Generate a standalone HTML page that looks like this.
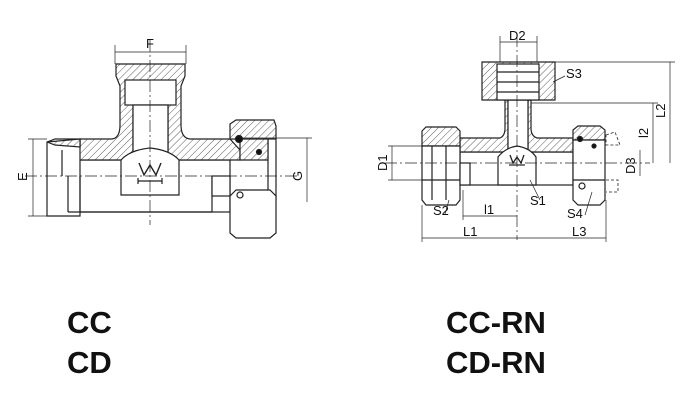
<!DOCTYPE html>
<html><head><meta charset="utf-8"><style>
html,body{margin:0;padding:0;background:#fff;}
svg{display:block;}
text{font-family:"Liberation Sans",sans-serif;fill:#111;}
.t{font-size:13px;}
.b{font-size:31px;font-weight:bold;}
</style></head><body>
<svg width="688" height="407" viewBox="0 0 688 407" xmlns="http://www.w3.org/2000/svg">
<defs>
<pattern id="h" width="5" height="5" patternUnits="userSpaceOnUse" patternTransform="rotate(45)">
<rect width="5" height="5" fill="#fff"/><line x1="0" y1="0" x2="0" y2="5" stroke="#333" stroke-width="0.8"/>
</pattern>
</defs>
<g stroke="#222" stroke-width="1.2" fill="none">
<!-- LEFT DRAWING -->
<!-- main body -->
<rect x="68" y="160" width="162" height="52" fill="#fff"/>
<path d="M80 139 L112 139 Q120 138 120 125 L120 86 L116 76 L116 64 L185 64 L185 76 L181 86 L181 125 Q181 138 190 139 L230 139 L240 150 L240 160 L168 160 L168 105 L133 105 L133 160 L68 160 L68 150 L80 147 Z" fill="url(#h)"/>
<rect x="125" y="80" width="51" height="25" fill="#fff"/>
<rect x="133" y="105" width="35" height="55" fill="#fff"/>
<!-- left end -->
<path d="M47 142 L55 139 L80 139 L80 216 L47 216 Z" fill="#fff"/>
<path d="M47 142 L80 139 L80 147 L55 145 Z" fill="url(#h)"/>
<line x1="62" y1="150" x2="62" y2="176"/>
<line x1="68" y1="176" x2="68" y2="212"/>
<line x1="80" y1="176" x2="80" y2="212"/>
<line x1="68" y1="212" x2="212" y2="212"/>
<line x1="212" y1="176" x2="212" y2="212"/>
<rect x="212" y="176" width="18" height="20" fill="#fff"/>
<!-- right nut -->
<path d="M230 124 L236 120 L274 120 L276 126 L276 139 L240 139 L230 139 Z" fill="url(#h)"/>
<rect x="268" y="139" width="8" height="60" fill="#fff"/>
<path d="M240 139 L268 139 L268 160 L240 160 Z" fill="url(#h)"/>
<path d="M230 196 L236 190 L270 190 L276 196 L276 233 L270 238 L236 238 L230 233 Z" fill="#fff"/>
<circle cx="239" cy="139" r="3.5" fill="#111"/>
<circle cx="259" cy="152" r="2.5" fill="#111"/>
<circle cx="240" cy="195" r="3"/>
<!-- W symbol -->
<path d="M121 195 L121 160 Q130 150 150 148 Q170 150 179 160 L179 195 Z" fill="#fff"/>
<path d="M139 163 L144 175 L150 165 L156 175 L161 163" stroke-width="1.4"/>
<line x1="138" y1="181" x2="162" y2="181"/><line x1="138" y1="178" x2="138" y2="184"/><line x1="162" y1="178" x2="162" y2="184"/>
<!-- centerlines -->
<line x1="25" y1="176" x2="300" y2="176" stroke-width="0.7" stroke-dasharray="12 3 2 3"/>
<line x1="150" y1="40" x2="150" y2="225" stroke-width="0.7" stroke-dasharray="12 3 2 3"/>
<!-- dims -->
<line x1="115" y1="52" x2="186" y2="52" stroke-width="0.7"/>
<line x1="115" y1="45" x2="115" y2="64" stroke-width="0.7"/><line x1="186" y1="45" x2="186" y2="64" stroke-width="0.7"/>
<line x1="33" y1="139" x2="33" y2="216" stroke-width="0.7"/>
<line x1="28" y1="139" x2="47" y2="139" stroke-width="0.7"/><line x1="28" y1="216" x2="47" y2="216" stroke-width="0.7"/>
<line x1="307" y1="138" x2="307" y2="202" stroke-width="0.7"/>
<line x1="240" y1="138" x2="312" y2="138" stroke-width="0.7"/>

<!-- RIGHT DRAWING -->
<rect x="460" y="152" width="113" height="33" fill="#fff"/>
<path d="M460 138 L500 138 Q505 136 505 128 L505 100 L531 100 L531 128 Q531 136 537 138 L573 138 L573 152 L528 152 L528 100 L508 100 L508 152 L460 152 Z" fill="url(#h)"/>
<rect x="508" y="100" width="20" height="52" fill="#fff"/>
<!-- top nut -->
<path d="M482 62 L555 62 L555 100 L482 100 Z" fill="url(#h)"/>
<rect x="497" y="64" width="42" height="36" fill="#fff"/>
<line x1="497" y1="72" x2="539" y2="72"/><line x1="497" y1="82" x2="539" y2="82"/><line x1="497" y1="92" x2="539" y2="92"/>
<!-- left nut -->
<path d="M422 131 L426 127 L456 127 L460 131 L460 146 L422 146 Z" fill="url(#h)"/>
<path d="M422 146 L460 146 L460 200 L456 205 L426 205 L422 200 Z" fill="#fff"/>
<line x1="432" y1="146" x2="432" y2="200"/><line x1="446" y1="146" x2="446" y2="200"/>
<line x1="422" y1="180" x2="460" y2="180"/>
<rect x="460" y="163" width="10" height="22" fill="#fff"/>
<!-- right nut -->
<path d="M573 130 L578 126 L600 126 L605 130 L605 140 L573 140 Z" fill="url(#h)"/>
<path d="M573 140 L605 140 L605 200 L600 205 L578 205 L573 200 Z" fill="#fff"/>
<line x1="573" y1="180" x2="605" y2="180"/>
<circle cx="582" cy="186" r="3"/>
<circle cx="580" cy="139" r="2.5" fill="#111"/><circle cx="594" cy="146" r="2" fill="#111"/>
<path d="M606 135 L615 132 L620 145 L606 145 Z" stroke-dasharray="3 2" stroke-width="0.8"/>
<path d="M606 180 L618 180 L618 192 L606 192" stroke-dasharray="3 2" stroke-width="0.8"/>
<!-- W -->
<path d="M498 185 L498 157 Q505 148 517 146 Q530 148 536 157 L536 185 Z" fill="#fff"/>
<path d="M510 155 L513 163 L517 157 L521 163 L524 155" stroke-width="1.3"/>
<line x1="509" y1="165" x2="525" y2="165"/>
<!-- centerlines -->
<line x1="385" y1="163" x2="650" y2="163" stroke-width="0.7" stroke-dasharray="12 3 2 3"/>
<line x1="517" y1="35" x2="517" y2="240" stroke-width="0.7" stroke-dasharray="12 3 2 3"/>
<!-- dims -->
<line x1="500" y1="42" x2="537" y2="42" stroke-width="0.7"/>
<line x1="500" y1="36" x2="500" y2="62" stroke-width="0.7"/><line x1="537" y1="36" x2="537" y2="62" stroke-width="0.7"/>
<line x1="555" y1="62" x2="675" y2="62" stroke-width="0.7"/>
<line x1="531" y1="103" x2="658" y2="103" stroke-width="0.7"/>
<line x1="670" y1="62" x2="670" y2="163" stroke-width="0.7"/>
<line x1="653" y1="103" x2="653" y2="163" stroke-width="0.7"/>
<line x1="392" y1="146" x2="392" y2="180" stroke-width="0.7"/>
<line x1="388" y1="146" x2="422" y2="146" stroke-width="0.7"/><line x1="388" y1="180" x2="422" y2="180" stroke-width="0.7"/>
<line x1="422" y1="205" x2="422" y2="242" stroke-width="0.7"/><line x1="606" y1="200" x2="606" y2="242" stroke-width="0.7"/>
<line x1="463" y1="190" x2="463" y2="220" stroke-width="0.7"/>
<line x1="422" y1="238" x2="606" y2="238" stroke-width="0.7"/>
<line x1="463" y1="216" x2="517" y2="216" stroke-width="0.7"/>
<line x1="640" y1="150" x2="640" y2="176" stroke-width="0.7"/>
<!-- leaders -->
<line x1="530" y1="180" x2="540" y2="200" stroke-width="0.7"/>
<line x1="449" y1="200" x2="445" y2="214" stroke-width="0.7"/>
<line x1="553" y1="82" x2="565" y2="76" stroke-width="0.7"/>
<line x1="592" y1="192" x2="585" y2="215" stroke-width="0.7"/>
</g>
<text class="t" x="146" y="48">F</text>
<text class="t" transform="translate(27,181) rotate(-90)">E</text>
<text class="t" transform="translate(302,181) rotate(-90)">G</text>
<text class="t" x="509" y="40">D2</text>
<text class="t" x="566" y="78">S3</text>
<text class="t" transform="translate(665,118) rotate(-90)">L2</text>
<text class="t" transform="translate(648,138) rotate(-90)">l2</text>
<text class="t" transform="translate(635,174) rotate(-90)">D3</text>
<text class="t" transform="translate(387,171) rotate(-90)">D1</text>
<text class="t" x="530" y="205">S1</text>
<text class="t" x="433" y="215">S2</text>
<text class="t" x="567" y="218">S4</text>
<text class="t" x="484" y="214">l1</text>
<text class="t" x="463" y="236">L1</text>
<text class="t" x="572" y="236">L3</text>
<text class="b" x="67" y="333">CC</text>
<text class="b" x="67" y="373">CD</text>
<text class="b" x="446" y="333">CC-RN</text>
<text class="b" x="446" y="373">CD-RN</text>
</svg>
</body></html>
